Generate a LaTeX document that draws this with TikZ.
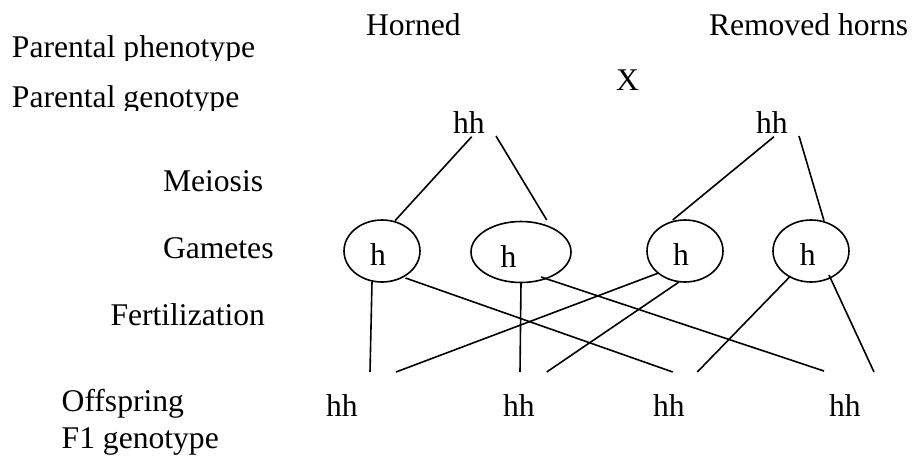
\documentclass[tikz,border=0pt]{standalone}
\usepackage{fontspec}
\setmainfont{Liberation Serif}
\usetikzlibrary{shapes.geometric}
\tikzset{
  lbl/.style={inner sep=0pt, outer sep=0pt, anchor=base west, font=\fontsize{31.6}{38}\selectfont},
  gam/.style={draw, ellipse, line width=1.6pt, inner sep=0pt},
  link/.style={line width=1.6pt},
}
\begin{document}
\begin{tikzpicture}[x=1pt, y=-1pt]
\useasboundingbox (0,0) rectangle (914,456);
% left labels
\begin{scope}
  \clip (0,0) rectangle (330,60.5);
  \node[lbl] (pphen) at (12,57) {Parental phenotype};
\end{scope}
\begin{scope}
  \clip (0,60.5) rectangle (330,110.5);
  \node[lbl] (pgen) at (12,107) {Parental genotype};
\end{scope}
\node[lbl] (meio) at (163,191.7) {Meiosis};
\node[lbl] (game) at (163,258.3) {Gametes};
\node[lbl] (fert) at (110.5,325) {Fertilization};
\node[lbl] (offs) at (61.7,411) {Offspring};
\node[lbl] (f1g) at (61.7,448) {F1 genotype};
% top row
\node[lbl] (horned) at (366,35) {Horned};
\node[lbl] (removed) at (709,35) {Removed horns};
\node[lbl] (cross) at (616,90.7) {X};
\node[lbl] (p1) at (453,133) {hh};
\node[lbl] (p2) at (756,133) {hh};
% gametes
\node[gam, minimum width=76pt, minimum height=62pt] (g1) at (382,251) {};
\node[gam, minimum width=100pt, minimum height=61pt] (g2) at (521,252) {};
\node[gam, minimum width=76pt, minimum height=62pt] (g3) at (685,251) {};
\node[gam, minimum width=76pt, minimum height=62pt] (g4) at (811,251) {};
\node[lbl, anchor=base] (h1) at (378,265) {h};
\node[lbl, anchor=base] (h2) at (508.6,267) {h};
\node[lbl, anchor=base] (h3) at (681,265) {h};
\node[lbl, anchor=base] (h4) at (807.7,265) {h};
% offspring
\node[lbl] (o1) at (326,416) {hh};
\node[lbl] (o2) at (503,416) {hh};
\node[lbl] (o3) at (653,416) {hh};
\node[lbl] (o4) at (829,416) {hh};
% connector end points
\coordinate (p1a) at (471.7,136.7);
\coordinate (p1b) at (496,136);
\coordinate (p2a) at (774,136.7);
\coordinate (p2b) at (799,136);
\coordinate (g1t) at (395,220.7);
\coordinate (g2t) at (546.7,220);
\coordinate (g3t) at (672.7,220);
\coordinate (g4t) at (824,220.7);
\coordinate (g1a) at (372,282);
\coordinate (g1b) at (405.5,278);
\coordinate (g2a) at (521,283);
\coordinate (g2b) at (541,277);
\coordinate (g3a) at (658.5,273);
\coordinate (g3b) at (679,282);
\coordinate (g4a) at (790.5,276);
\coordinate (g4b) at (829,275);
\coordinate (f1) at (370,372);
\coordinate (f2) at (396,372);
\coordinate (f3) at (520,372);
\coordinate (f4) at (546.7,372);
\coordinate (f5) at (672.7,372);
\coordinate (f6) at (697.3,372);
\coordinate (f7) at (824,371);
\coordinate (f8) at (874,372);
% meiosis lines
\draw[link] (p1a) -- (g1t);
\draw[link] (p1b) -- (g2t);
\draw[link] (p2a) -- (g3t);
\draw[link] (p2b) -- (g4t);
% fertilization lines
\draw[link] (g1a) -- (f1);
\draw[link] (g1b) -- (f5);
\draw[link] (g2a) -- (f3);
\draw[link] (g2b) -- (f7);
\draw[link] (g3a) -- (f2);
\draw[link] (g3b) -- (f4);
\draw[link] (g4a) -- (f6);
\draw[link] (g4b) -- (f8);
\end{tikzpicture}
\end{document}
